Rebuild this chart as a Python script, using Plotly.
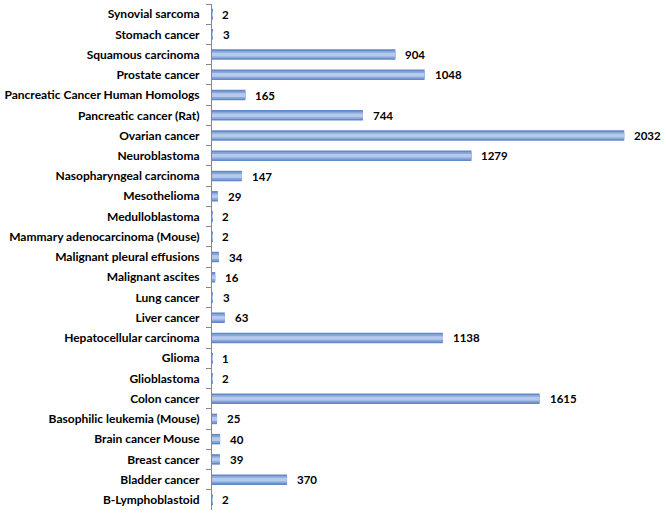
import plotly.graph_objects as go

categories = [
    "Synovial sarcoma", "Stomach cancer", "Squamous carcinoma", "Prostate cancer",
    "Pancreatic Cancer Human Homologs", "Pancreatic cancer (Rat)", "Ovarian cancer",
    "Neuroblastoma", "Nasopharyngeal carcinoma", "Mesothelioma", "Medulloblastoma",
    "Mammary adenocarcinoma (Mouse)", "Malignant pleural effusions", "Malignant ascites",
    "Lung cancer", "Liver cancer", "Hepatocellular carcinoma", "Glioma", "Glioblastoma",
    "Colon cancer", "Basophilic leukemia (Mouse)", "Brain cancer Mouse", "Breast cancer",
    "Bladder cancer", "B-Lymphoblastoid",
]
values = [2, 3, 904, 1048, 165, 744, 2032, 1279, 147, 29, 2, 2, 34, 16, 3, 63,
          1138, 1, 2, 1615, 25, 40, 39, 370, 2]

FONT = "Lato"

fig = go.Figure()
for w, col in [(0.52, "#6389C8"), (0.36, "#8AA8DB"), (0.18, "#B6CAEC")]:
    fig.add_trace(go.Bar(
        x=values, y=categories, orientation="h", width=w,
        marker=dict(color=col, line=dict(width=0)),
        hoverinfo="skip",
    ))

for c, v in zip(categories, values):
    fig.add_annotation(
        x=v, y=c, text=f"<b>{v}</b>", showarrow=False,
        xanchor="left", xshift=8, font=dict(family=FONT, size=11.5, color="#000000"),
    )

xmax = 2032 * 451 / 415
fig.update_layout(
    width=666, height=525,
    margin=dict(l=209, r=6, t=4, b=15),
    barmode="overlay",
    showlegend=False,
    plot_bgcolor="white", paper_bgcolor="white",
    font=dict(family=FONT, size=12, color="#000000"),
    xaxis=dict(range=[0, xmax], visible=False, showgrid=False, zeroline=False),
    yaxis=dict(
        type="category", range=[24.5, -0.5],
        showline=True, linecolor="#888888", linewidth=1,
        ticks="outside", ticklen=5, tickcolor="#888888", tickson="boundaries",
        tickfont=dict(family=FONT, size=12, color="#000000"),
        showgrid=False, zeroline=False,
        ticklabelstandoff=9,
    ),
)
fig.update_yaxes(tickprefix="<b>", ticksuffix="</b>")

fig.write_html("out.html", config={"displayModeBar": False},
               post_script="document.body.style.margin='0';")
